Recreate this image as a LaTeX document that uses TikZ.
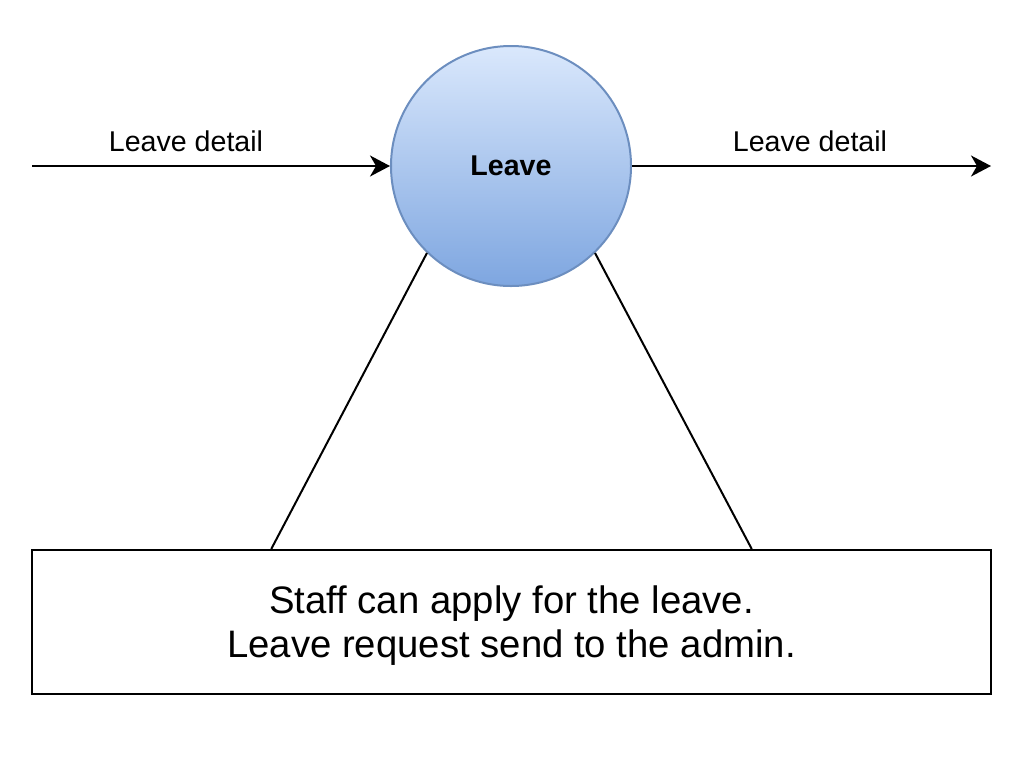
\documentclass[tikz,border=0pt]{standalone}
\usepackage{fontspec}
\setmainfont{Liberation Sans}
\usetikzlibrary{arrows.meta,calc}
\definecolor{leavetop}{HTML}{DAE8FC}
\definecolor{leavebot}{HTML}{7EA6E0}
\definecolor{leaveline}{HTML}{6C8EBF}

\begin{document}
\begin{tikzpicture}[x=1pt,y=-1pt,line width=2pt,
  flow/.style={-{Stealth[length=20pt,width=21pt,inset=6pt]}},
  lbl/.style={font=\fontsize{28.6}{34}\selectfont}]
\useasboundingbox (0,0) rectangle (1030,764);
% process circle
\node[circle, draw=leaveline, top color=leavetop, bottom color=leavebot, minimum size=240pt, inner sep=0pt, font=\bfseries\fontsize{28.6}{34}\selectfont] (leave) at (511,166) {Leave};
% note box
\node[draw, minimum width=959pt, minimum height=144pt, align=center, text depth=0pt, font=\fontsize{38.3}{44}\selectfont] (note) at (511.5,622) {Staff can apply for the leave.\\Leave request send to the admin.};

% in / out flows
\coordinate (src) at (32,166);
\coordinate (dst) at (991,166);
\draw[flow] (src) -- (leave);
\draw[flow] (leave) -- (dst);
\node[lbl] (inlbl) at (186,141) {Leave detail};
\node[lbl] (outlbl) at (810,141) {Leave detail};

% links to note
\draw (leave.226) -- ($(note.north west)!0.25!(note.north east)$);
\draw (leave.314) -- ($(note.north west)!0.75!(note.north east)$);
\end{tikzpicture}
\end{document}
